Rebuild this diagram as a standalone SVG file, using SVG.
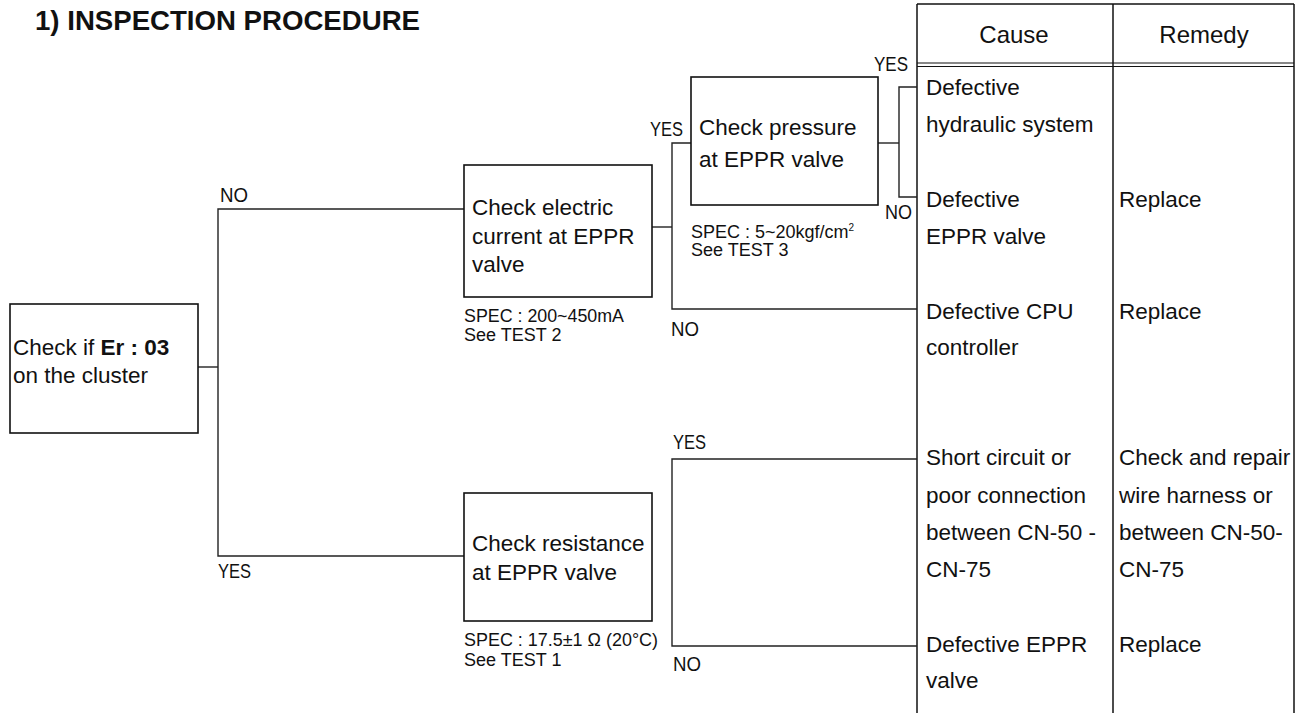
<svg xmlns="http://www.w3.org/2000/svg" width="1308" height="713" viewBox="0 0 1308 713">
<style>
text{font-family:"Liberation Sans",Arial,sans-serif;fill:#111}
.t{font-size:22.5px}
.h{font-size:24px}
.s{font-size:18px}
.l{font-size:21px}
.box{fill:#fff;stroke:#111;stroke-width:1.6}
.c line,.c polyline{stroke:#222;stroke-width:1.4;fill:none}
.tb line{stroke:#111;stroke-width:1.5}
</style>
<rect width="1308" height="713" fill="#fff"/>
<text x="35" y="30" font-size="28" font-weight="bold" textLength="385" lengthAdjust="spacingAndGlyphs">1) INSPECTION PROCEDURE</text>

<g id="table" class="tb">
<line x1="917" y1="4" x2="1294" y2="4"/>
<line x1="917" y1="4" x2="917" y2="713"/>
<line x1="1294" y1="4" x2="1294" y2="713"/>
<line x1="1113" y1="4" x2="1113" y2="713"/>
<line x1="917" y1="63" x2="1294" y2="63" style="stroke-width:1"/>
<line x1="917" y1="66.5" x2="1294" y2="66.5" style="stroke-width:1"/>
<text class="h" x="1014" y="43" text-anchor="middle">Cause</text>
<text class="h" x="1204" y="43" text-anchor="middle">Remedy</text>
</g>

<g id="causes" class="t">
<text x="926" y="95">Defective</text>
<text x="926" y="132">hydraulic system</text>
<text x="926" y="207">Defective</text>
<text x="926" y="244">EPPR valve</text>
<text x="926" y="319">Defective CPU</text>
<text x="926" y="355">controller</text>
<text x="926" y="465">Short circuit or</text>
<text x="926" y="503">poor connection</text>
<text x="926" y="540">between CN-50 -</text>
<text x="926" y="577">CN-75</text>
<text x="926" y="652">Defective EPPR</text>
<text x="926" y="688">valve</text>
</g>
<g id="remedies" class="t">
<text x="1119" y="207">Replace</text>
<text x="1119" y="319">Replace</text>
<text x="1119" y="465">Check and repair</text>
<text x="1119" y="503">wire harness or</text>
<text x="1119" y="540">between CN-50-</text>
<text x="1119" y="577">CN-75</text>
<text x="1119" y="652">Replace</text>
</g>

<g id="connectors" class="c">
<line x1="198" y1="367" x2="218" y2="367"/>
<polyline points="464,209 218,209 218,556 464,556"/>
<line x1="652" y1="227" x2="672" y2="227"/>
<polyline points="691,143 672,143 672,309 917,309"/>
<line x1="878" y1="143" x2="899" y2="143"/>
<polyline points="917,87 899,87 899,197 917,197"/>
<polyline points="917,459 672,459 672,646 917,646"/>
</g>

<g id="labels" class="l">
<text x="220" y="202" textLength="28" lengthAdjust="spacingAndGlyphs">NO</text>
<text x="218" y="578" textLength="33" lengthAdjust="spacingAndGlyphs">YES</text>
<text x="650" y="136" textLength="33" lengthAdjust="spacingAndGlyphs">YES</text>
<text x="671" y="336" textLength="28" lengthAdjust="spacingAndGlyphs">NO</text>
<text x="874" y="71" textLength="34" lengthAdjust="spacingAndGlyphs">YES</text>
<text x="885" y="219" textLength="27" lengthAdjust="spacingAndGlyphs">NO</text>
<text x="673" y="449" textLength="33" lengthAdjust="spacingAndGlyphs">YES</text>
<text x="673" y="671" textLength="28" lengthAdjust="spacingAndGlyphs">NO</text>
</g>

<g id="start">
<rect class="box" x="10" y="304" width="188" height="129"/>
<text class="t" x="13" y="355">Check if <tspan font-weight="bold">Er : 03</tspan></text>
<text class="t" x="13" y="383">on the cluster</text>
</g>

<g id="current">
<rect class="box" x="464" y="165" width="188" height="132"/>
<text class="t" x="472" y="215">Check electric</text>
<text class="t" x="472" y="244">current at EPPR</text>
<text class="t" x="472" y="272">valve</text>
<text class="s" x="464" y="322" textLength="160" lengthAdjust="spacingAndGlyphs">SPEC : 200~450mA</text>
<text class="s" x="464" y="341">See TEST 2</text>
</g>

<g id="pressure">
<rect class="box" x="691" y="77" width="187" height="128"/>
<text class="t" x="699" y="135">Check pressure</text>
<text class="t" x="699" y="167">at EPPR valve</text>
<text class="s" x="691" y="238">SPEC : 5~20kgf/cm<tspan font-size="10" dy="-7">2</tspan></text>
<text class="s" x="691" y="256">See TEST 3</text>
</g>

<g id="resistance">
<rect class="box" x="464" y="493" width="188" height="128"/>
<text class="t" x="472" y="551">Check resistance</text>
<text class="t" x="472" y="580">at EPPR valve</text>
<text class="s" x="464" y="646" textLength="194" lengthAdjust="spacingAndGlyphs">SPEC : 17.5±1 Ω (20°C)</text>
<text class="s" x="464" y="666">See TEST 1</text>
</g>
</svg>
